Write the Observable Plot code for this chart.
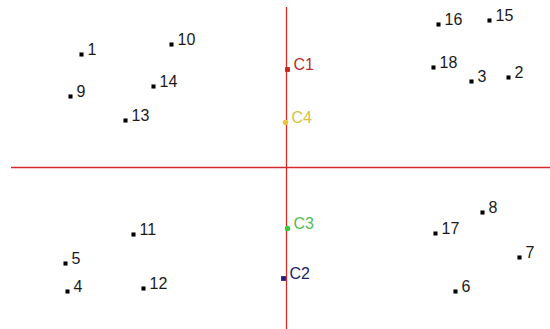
<!DOCTYPE html>
<html>
<head>
<meta charset="utf-8">
<script src="https://cdn.jsdelivr.net/npm/d3@7"></script>
<script src="https://cdn.jsdelivr.net/npm/@observablehq/plot@0.6"></script>
<style>
  html, body { margin: 0; padding: 0; background: #fff; }
  #chart svg { display: block; }
</style>
</head>
<body>
<div id="chart"></div>
<script>
// Row points (labels and coordinates)
const rowLabels = ["1","2","3","4","5","6","7","8","9","10","11","12","13","14","15","16","17","18"];
const rowX = [-1.025, 1.11, 0.925, -1.095, -1.105, 0.845, 1.165, 0.98, -1.08, -0.575, -0.765, -0.715, -0.805, -0.665, 1.015, 0.76, 0.745, 0.735];
const rowY = [0.565, 0.45, 0.43, -0.62, -0.48, -0.62, -0.45, -0.225, 0.355, 0.615, -0.335, -0.605, 0.235, 0.405, 0.735, 0.715, -0.33, 0.50];

// Column points
const colLabels = ["C1","C2","C3","C4"];
const colX = [0.005, -0.015, 0.005, -0.005];
const colY = [0.49, -0.555, -0.305, 0.225];
const colColors = ["#cc2020", "#1c1c8c", "#33cc33", "#e8c53a"];
const colTextColors = ["#b83030", "#222266", "#55bb55", "#d8c040"];
const colSymbols = ["square", "square", "circle", "circle"];

// Axis cross lines (extent)
const hLine = [{y: 0, x1: -1.375, x2: 1.32}];
const vLine = [{x: 0, y1: -0.81, y2: 0.80}];

const rows = rowLabels.map((l, i) => ({label: l, x: rowX[i], y: rowY[i]}));
const cols = colLabels.map((l, i) => ({label: l, x: colX[i], y: colY[i], color: colColors[i], tcolor: colTextColors[i], symbol: colSymbols[i]}));

const font = "Liberation Sans, Arial, sans-serif";

const chart = Plot.plot({
  width: 550,
  height: 329,
  margin: 0,
  x: {domain: [-1.43, 1.32], axis: null},
  y: {domain: [-0.81, 0.835], axis: null},
  style: {fontFamily: font, background: "#fff"},
  marks: [
    Plot.ruleY(hLine, {y: "y", x1: "x1", x2: "x2", stroke: "#d42a2a", strokeWidth: 1.6}),
    Plot.ruleX(vLine, {x: "x", y1: "y1", y2: "y2", stroke: "#d42a2a", strokeWidth: 1.3}),
    Plot.dot(rows, {x: "x", y: "y", symbol: "square", r: 2.3, fill: "#000", stroke: "none"}),
    Plot.text(rows, {x: "x", y: "y", text: "label", dx: 6, textAnchor: "start", lineAnchor: "bottom", fontSize: 16, fill: "#1a1a1a"}),
    Plot.dot(cols, {x: "x", y: "y", symbol: d => d.symbol, r: 2.7, fill: d => d.color, stroke: "none"}),
    Plot.text(cols, {x: "x", y: "y", text: "label", dx: 6, textAnchor: "start", lineAnchor: "bottom", fontSize: 16, fill: d => d.tcolor})
  ]
});
document.getElementById("chart").appendChild(chart);
</script>
</body>
</html>
